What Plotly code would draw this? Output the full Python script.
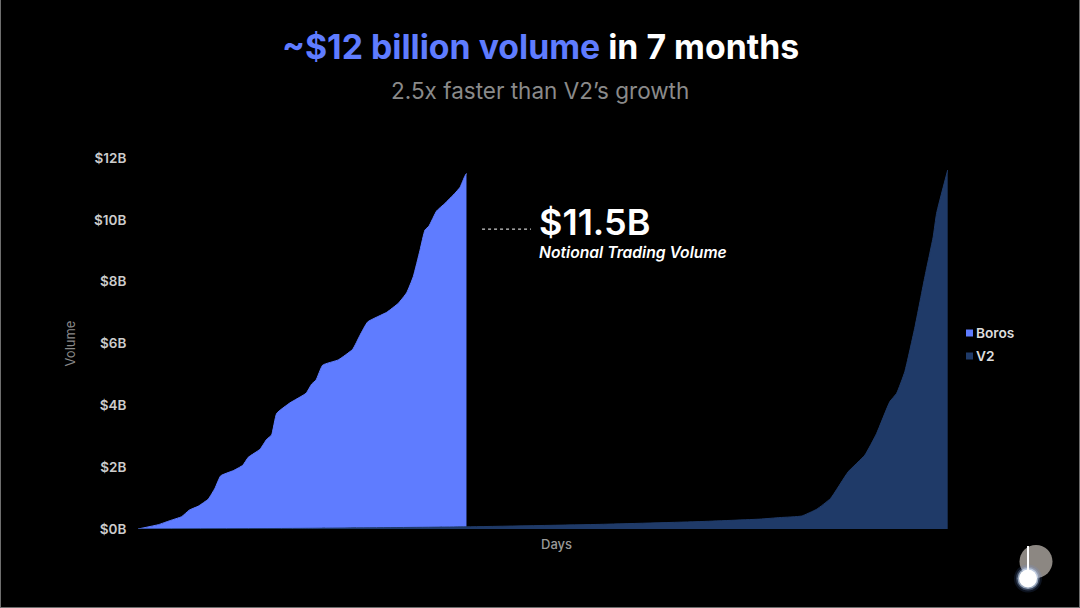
"""Boros vs V2 cumulative notional volume, area chart on black."""
import plotly.graph_objects as go

BOROS_COLOR = "#5F7CFF"
V2_COLOR = "#1F3A68"
FONT = "Inter"

boros_days = [0, 13.2, 20.7, 28.3, 33.2, 39.1, 45.6, 49.9, 53.6, 61.8, 67.9, 71.5, 79.1,
              83.4, 86.6, 89.9, 98.5, 108.9, 112.6, 115.4, 119.7, 129.8, 139.1, 143.9,
              148.9, 161.2, 168.7, 174.1, 178.4, 182.8, 186, 188.6, 193.6, 198.9, 205.4,
              208.7, 211.9, 212.9]
boros_volume = [0, 0.14, 0.27, 0.40, 0.61, 0.74, 0.97, 1.32, 1.72, 1.89, 2.06, 2.32, 2.58,
                2.90, 3.04, 3.74, 4.08, 4.39, 4.69, 4.82, 5.30, 5.47, 5.81, 6.27,
                6.70, 7.01, 7.30, 7.64, 8.16, 9.02, 9.67, 9.80, 10.29, 10.53, 10.86,
                11.05, 11.42, 11.5]

v2_days = [0, 105, 212.6, 299.4, 364.2, 403.1, 416.1, 430.1, 439.9, 448.9, 460.3, 471.1,
           478.7, 487.3, 491.7, 497, 503.6, 510, 515.4, 517.6, 524.8]
v2_volume = [0, 0.02, 0.07, 0.15, 0.24, 0.32, 0.37, 0.42, 0.64, 0.99, 1.85, 2.39,
             3.09, 4.12, 4.39, 5.09, 6.54, 8.16, 9.45, 10.21, 11.61]

y_ticks = [0, 2, 4, 6, 8, 10, 12]
y_labels = ["$0B", "$2B", "$4B", "$6B", "$8B", "$10B", "$12B"]


# plot area sits at x 138-948, y 158-529 in the page
def px(x):
    return (x - 138) / 810


def py(y):
    return (529 - y) / 371


def circle(cx, cy, r, color):
    return dict(type="circle", xref="paper", yref="paper",
                x0=px(cx - r), x1=px(cx + r), y0=py(cy + r), y1=py(cy - r),
                fillcolor=color, line_width=0, layer="above")


def edge(x0, y0, x1, y1):
    return dict(type="line", xref="paper", yref="paper", x0=px(x0), x1=px(x1), y0=py(y0), y1=py(y1),
                line=dict(color="#6e6e6e", width=1))


def note(x, y, text, size, color="white", anchor="left", weight=None):
    return dict(xref="paper", yref="paper", x=px(x), y=py(y), text=text, showarrow=False,
                xanchor=anchor, yanchor="middle",
                font=dict(family=FONT, size=size, color=color, weight=weight))


fig = go.Figure()
fig.add_trace(go.Scatter(x=boros_days, y=boros_volume, name="Boros", mode="lines",
                         fill="tozeroy", fillcolor=BOROS_COLOR,
                         line=dict(color=BOROS_COLOR, width=1, shape="spline", smoothing=0.4)))
fig.add_trace(go.Scatter(x=v2_days, y=v2_volume, name="V2", mode="lines",
                         fill="tozeroy", fillcolor=V2_COLOR,
                         line=dict(color=V2_COLOR, width=1, shape="spline", smoothing=0.4)))

shapes = [
    # dotted leader to the callout
    dict(type="line", xref="x", yref="y", x0=223, x1=254.7, y0=9.7, y1=9.7,
         line=dict(color="white", width=1, dash="dot")),
    # legend swatches
    dict(type="rect", xref="paper", yref="paper", x0=px(966), x1=px(973), y0=py(336.5), y1=py(329.5),
         fillcolor=BOROS_COLOR, line_width=0),
    dict(type="rect", xref="paper", yref="paper", x0=px(966), x1=px(973), y0=py(359.5), y1=py(352.5),
         fillcolor=V2_COLOR, line_width=0),
    # thin frame left over from the screenshot
    edge(0.5, 0, 0.5, 608),
    edge(1079.5, 0, 1079.5, 608),
    edge(0, 607.5, 1080, 607.5),
    # corner logo
    circle(1036, 561.5, 16.5, "#8c8782"),
    circle(1028, 578.5, 14, "rgba(110,160,255,0.12)"),
    circle(1028, 578.5, 12, "rgba(170,205,255,0.25)"),
    circle(1028, 578.5, 10.5, "rgba(220,235,255,0.6)"),
    dict(type="line", xref="paper", yref="paper", x0=px(1028), x1=px(1028), y0=py(546), y1=py(578),
         line=dict(color="white", width=2), layer="above"),
    circle(1028, 578.5, 9, "white"),
]

annotations = [
    note(540, 46.5, '<span style="color:#5F7CFF">~$12 billion volume</span> in 7 months',
         33.8, anchor="center", weight=700),
    note(540, 90.5, "2.5x faster than V2’s growth", 22.5, color="#8a8a8a", anchor="center"),
    note(537, 222, "$11.5B", 36, weight=600),
    note(537, 252.5, "<i>Notional Trading Volume</i>", 15.7, weight=600),
    note(974, 332.5, "Boros", 13.7, color="#dddddd", weight=600),
    note(974, 355.5, "V2", 13.7, color="#dddddd", weight=600),
    note(556, 544, "Days", 13, color="#999999", anchor="center", weight=500),
]

fig.update_layout(
    width=1080, height=608, showlegend=False,
    paper_bgcolor="black", plot_bgcolor="black",
    margin=dict(l=138, r=132, t=158, b=79),
    font=dict(family=FONT, color="#cccccc"),
    shapes=shapes, annotations=annotations,
)
fig.update_xaxes(range=[0, 525], showgrid=False, zeroline=False, showline=False, showticklabels=False)
fig.update_yaxes(range=[0, 12], tickvals=y_ticks, ticktext=y_labels,
                 showgrid=False, zeroline=False, showline=False,
                 ticks="outside", ticklen=8, tickcolor="rgba(0,0,0,0)",
                 tickfont=dict(family=FONT, size=13.5, color="#cccccc", weight=600),
                 title=dict(text="Volume", standoff=15,
                            font=dict(family=FONT, size=13, color="#8a8a8a")))

fig.write_html("out.html", config=dict(displayModeBar=False),
               post_script="document.body.style.margin='0';document.body.style.background='black';")
